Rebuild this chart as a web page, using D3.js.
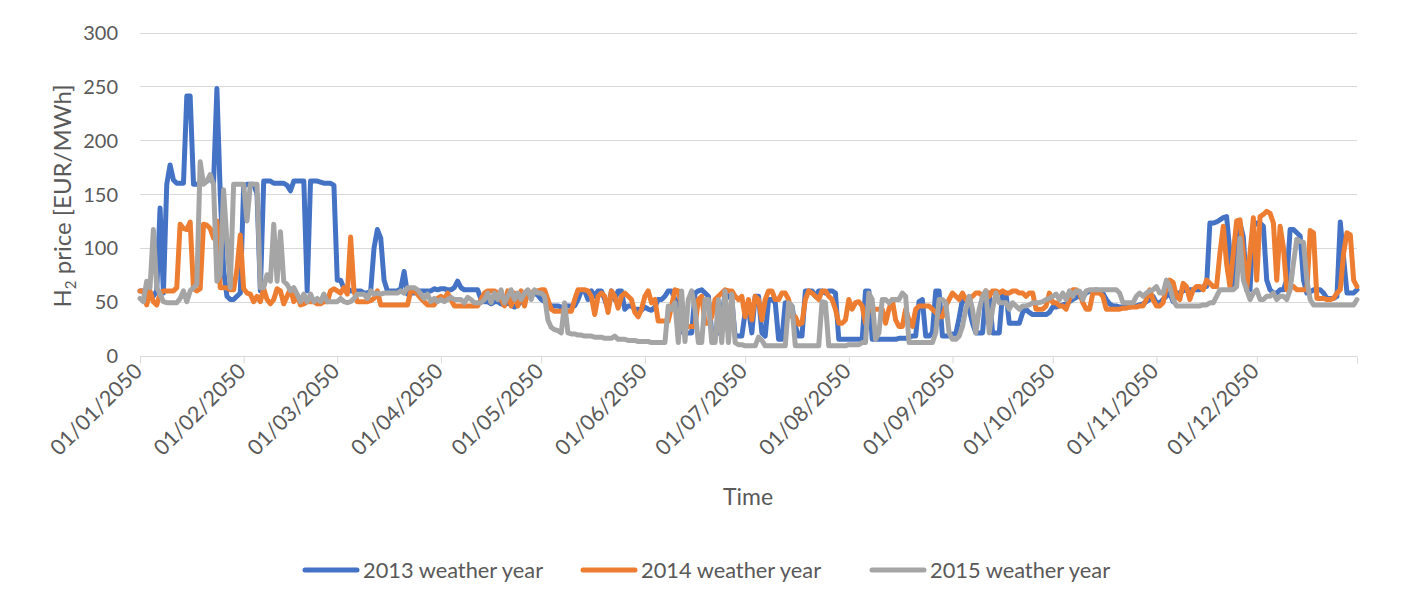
<!DOCTYPE html>
<html>
<head>
<meta charset="utf-8">
<script src="https://cdn.jsdelivr.net/npm/d3@7"></script>
<style>
  html, body { margin: 0; padding: 0; background: #ffffff; }
  svg { display: block; font-family: Lato, "Open Sans", sans-serif; }
</style>
</head>
<body>
<svg id="chart" width="1412" height="604"></svg>
<script>
// Daily H2 price [EUR/MWh] for 2050, one value per day (365), by weather year
const w2013 = [
  // Jan
  60,60,60,58,55,60,137,58,159,177,163,160,160,160,241,241,159,159,160,160,162,165,160,248,150,80,55,52,52,55,58,
  // Feb
  157,159,159,159,150,60,162,162,162,160,160,160,160,158,153,162,162,162,162,60,162,162,162,161,160,160,160,158,
  // Mar
  70,70,62,62,60,60,60,60,58,58,60,100,117,109,70,60,60,60,60,62,78,57,58,58,60,60,60,60,60,62,61,
  // Apr
  62,62,61,61,63,69,63,61,61,61,61,61,52,50,50,48,50,50,48,47,50,47,45,47,50,52,55,58,58,56,
  // May
  52,50,48,46,46,46,45,45,46,46,46,52,60,60,52,60,55,60,60,52,43,60,52,60,60,43,46,46,43,43,42,
  // Jun
  45,43,42,45,52,52,55,60,60,52,49,22,21,21,21,58,60,61,58,55,21,21,21,36,58,55,52,18,18,18,
  // Jul
  40,43,21,55,55,21,18,52,52,49,15,15,49,49,46,27,18,18,60,60,60,55,60,60,58,60,60,58,15,15,15,
  // Aug
  15,15,15,15,15,60,60,15,15,15,15,15,15,15,15,16,16,16,17,18,18,50,52,18,18,21,60,60,18,18,18,
  // Sep
  20,20,35,52,52,43,30,21,21,21,58,58,21,21,21,58,58,30,30,30,30,40,43,40,38,38,38,38,38,40,
  // Oct
  45,45,46,47,48,50,52,54,55,57,58,60,60,61,60,58,52,48,46,46,45,45,45,45,46,46,47,48,50,52,55,
  // Nov
  49,49,52,55,58,50,58,58,60,61,61,61,61,61,64,64,123,123,124,126,128,129,95,64,95,123,110,61,61,120,
  // Dec
  123,123,120,70,61,58,58,61,61,70,117,117,114,111,70,58,59,61,61,61,58,53,53,53,55,124,90,58,58,58,61
];

const w2014 = [
  // Jan
  60,60,47,60,50,47,57,60,60,60,60,63,122,118,117,124,62,60,62,122,121,118,109,125,63,63,63,61,61,80,112,
  // Feb
  62,58,57,50,55,50,62,52,48,52,62,60,48,55,62,50,56,47,48,50,50,50,48,48,50,50,60,62,
  // Mar
  60,58,63,57,110,60,50,50,50,50,51,53,60,47,47,47,47,47,47,47,47,47,60,60,57,53,50,47,47,47,53,
  // Apr
  55,52,58,52,46,46,46,46,46,46,46,46,52,58,60,60,60,58,52,46,60,46,58,46,60,46,60,58,60,60,
  // May
  61,61,52,43,41,41,41,41,41,41,52,61,61,61,60,55,38,55,58,55,40,60,55,44,55,58,55,52,40,36,43,
  // Jun
  55,60,49,52,32,32,32,32,46,61,60,46,29,27,27,27,52,55,30,30,36,52,55,58,61,60,60,55,52,55,
  // Jul
  36,52,33,55,52,33,52,60,60,52,52,58,58,52,36,36,29,30,52,60,58,55,52,60,60,55,52,43,30,30,33,
  // Aug
  52,43,49,50,46,30,43,43,43,43,43,30,43,52,33,27,27,43,33,27,43,46,46,46,46,43,40,36,36,46,52,
  // Sep
  58,55,52,58,52,52,55,58,58,55,60,55,60,60,58,60,58,58,60,60,58,58,55,58,58,43,43,43,46,58,
  // Oct
  49,49,46,46,43,52,61,61,58,49,43,43,58,58,58,55,43,43,43,43,43,44,44,45,45,45,46,46,52,61,52,
  // Nov
  46,46,49,64,70,68,55,52,67,64,52,61,64,64,61,70,67,64,64,95,120,85,64,95,125,126,95,61,95,128,
  // Dec
  70,129,131,134,132,123,70,120,100,61,64,64,61,61,61,61,116,114,53,53,53,52,52,53,58,61,95,114,112,70,64
];

const w2015 = [
  // Jan
  53,50,69,63,117,63,57,50,49,49,49,49,53,60,50,60,63,66,180,159,162,168,159,69,75,154,106,63,159,159,159,
  // Feb
  159,125,159,159,159,63,63,75,69,122,69,115,69,66,60,63,57,50,57,50,57,50,53,50,57,50,50,50,
  // Mar
  50,53,50,49,50,53,57,57,57,53,60,57,58,57,58,58,58,58,58,60,58,63,63,63,61,57,53,57,50,53,50,
  // Apr
  52,50,52,54,52,52,52,49,54,52,49,49,49,52,58,49,58,52,61,49,55,61,52,58,52,58,61,52,61,58,
  // May
  58,55,33,26,24,23,21,49,21,20,20,19,19,18,18,18,17,17,17,16,16,16,18,15,15,15,14,14,14,13,13,
  // Jun
  13,13,12,12,12,12,12,46,43,49,12,60,13,52,60,43,12,12,52,52,12,12,52,12,60,12,57,12,10,10,
  // Jul
  9,9,9,9,17,14,9,9,9,9,9,9,9,49,46,9,9,9,9,9,9,9,9,50,49,9,9,9,9,9,9,
  // Aug
  10,10,10,10,12,12,58,52,15,21,52,52,49,52,52,52,58,55,12,12,12,12,12,12,12,12,21,52,52,49,21,
  // Sep
  15,15,18,27,43,55,43,21,43,55,60,21,43,58,49,49,49,43,49,46,43,46,46,47,49,49,49,50,52,53,
  // Oct
  55,57,52,58,52,60,55,60,60,52,60,61,61,61,61,61,61,61,61,61,58,49,49,49,49,55,58,55,58,60,61,
  // Nov
  64,58,58,70,64,52,46,46,46,46,46,46,46,46,47,47,49,49,55,61,61,61,61,61,64,109,70,61,52,58,
  // Dec
  61,52,52,55,55,58,52,55,55,52,61,86,108,106,105,70,52,47,47,47,47,47,47,47,47,47,47,47,47,47,52
];

const seriesNames = ["2013 weather year", "2014 weather year", "2015 weather year"];
const seriesColors = ["#4472C4", "#ED7D31", "#A5A5A5"];
const yTicks = [0, 50, 100, 150, 200, 250, 300];
const yTitle = "price [EUR/MWh]";
const xTitle = "Time";

const svg = d3.select("#chart");
const plot = { left: 140, right: 1357, top: 32.5, bottom: 355.5 };

const start = new Date(2050, 0, 1);
const end = new Date(2050, 11, 31);
const day = i => d3.timeDay.offset(start, i);

const x = d3.scaleTime().domain([start, end]).range([plot.left, plot.right]);
const y = d3.scaleLinear().domain([0, 300]).range([plot.bottom, plot.top]);

// Horizontal gridlines
svg.append("g")
  .selectAll("line")
  .data(yTicks.filter(v => v > 0))
  .join("line")
  .attr("x1", plot.left).attr("x2", plot.right)
  .attr("y1", d => Math.round(y(d)) + 0.5).attr("y2", d => Math.round(y(d)) + 0.5)
  .attr("stroke", "#d9d9d9").attr("stroke-width", 1);

// Y axis labels
const yAxis = d3.axisLeft(y).tickValues(yTicks).tickSize(0).tickPadding(0);
const gy = svg.append("g").attr("transform", `translate(${plot.left - 22},0)`).call(yAxis);
gy.select(".domain").remove();
gy.selectAll("text")
  .attr("fill", "#595959").attr("font-size", 20).attr("font-family", "Lato, sans-serif")
  .attr("dy", "0.35em");

// X axis with month ticks and the year-end tick
const monthTicks = d3.timeMonth.range(start, d3.timeDay.offset(end, 1)).concat([end]);
const fmt = d3.timeFormat("%d/%m/%Y");
const xAxis = d3.axisBottom(x)
  .tickValues(monthTicks)
  .tickSize(7)
  .tickFormat(d => (+d === +end ? "" : fmt(d)));
const gx = svg.append("g").attr("transform", `translate(0,${Math.round(plot.bottom) + 0.5})`).call(xAxis);
gx.select(".domain").attr("stroke", "#d9d9d9").attr("d", `M${plot.left},0H${plot.right}`);
gx.selectAll(".tick line").attr("stroke", "#d9d9d9");
gx.selectAll(".tick text")
  .attr("fill", "#595959").attr("font-size", 21.5).attr("font-family", "Lato, sans-serif")
  .attr("text-anchor", "end")
  .attr("y", 0).attr("dy", 0)
  .attr("transform", "translate(3,16) rotate(-45)");

// Series lines
const series = [w2013, w2014, w2015];
const line = d3.line()
  .x((v, i) => x(day(i)))
  .y(v => y(v));

svg.append("g")
  .selectAll("path")
  .data(series)
  .join("path")
  .attr("d", d => line(d))
  .attr("fill", "none")
  .attr("stroke", (d, i) => seriesColors[i])
  .attr("stroke-width", 5)
  .attr("stroke-linejoin", "round")
  .attr("stroke-linecap", "round");

// Axis titles
const yt = svg.append("text")
  .attr("transform", `translate(71,${(plot.top + plot.bottom) / 2 + 2}) rotate(-90)`)
  .attr("text-anchor", "middle")
  .attr("fill", "#595959").attr("font-size", 24);
yt.append("tspan").text("H");
yt.append("tspan").attr("font-size", 15).attr("dy", 5).text("2");
yt.append("tspan").attr("dy", -5).text(" " + yTitle);

svg.append("text")
  .attr("x", 748).attr("y", 505)
  .attr("text-anchor", "middle")
  .attr("fill", "#595959").attr("font-size", 23)
  .text(xTitle);

// Legend
const legendX = [305, 583, 872];
const lg = svg.append("g").selectAll("g").data(seriesNames).join("g")
  .attr("transform", (d, i) => `translate(${legendX[i]},570)`);
lg.append("line")
  .attr("x1", 0).attr("x2", 52).attr("y1", 0).attr("y2", 0)
  .attr("stroke", (d, i) => seriesColors[i]).attr("stroke-width", 5)
  .attr("stroke-linecap", "round");
lg.append("text")
  .attr("x", 58).attr("y", 0).attr("dy", "0.35em")
  .attr("fill", "#595959").attr("font-size", 21.8)
  .text(d => d);
</script>
</body>
</html>
